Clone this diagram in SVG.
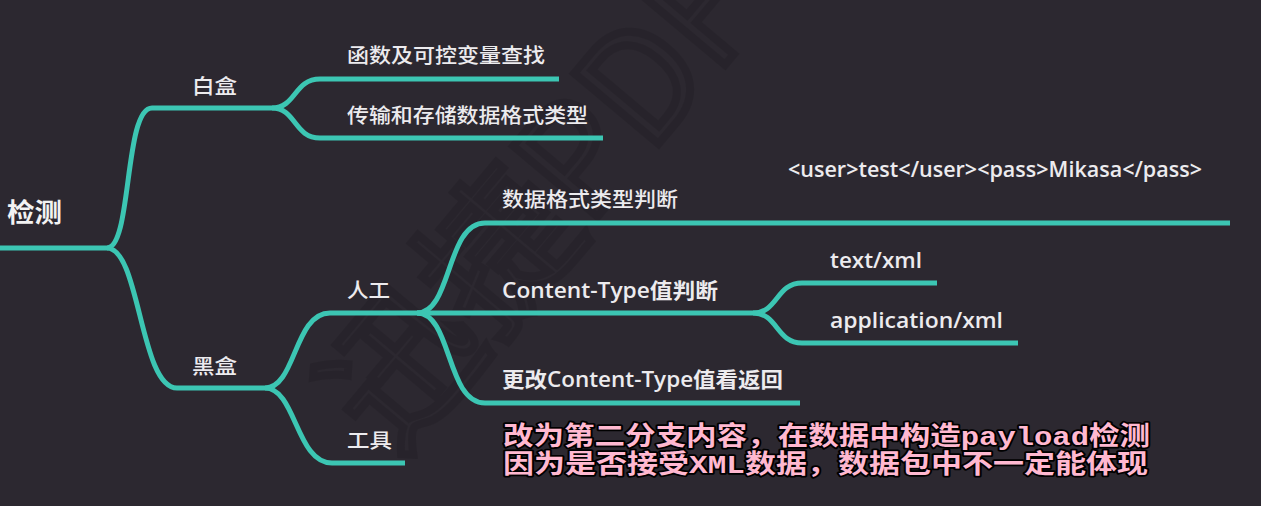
<svg xmlns="http://www.w3.org/2000/svg" width="1261" height="506" viewBox="0 0 1261 506">
<style>
.bg{fill:#2c2830}
.e{fill:none;stroke:#3cc6b3;stroke-width:5}
.t{font-family:"Noto Sans CJK SC","Noto Sans",sans-serif;font-size:20px;fill:#ecebee;font-weight:500}
.l{font-family:"Open Sans","Noto Sans CJK SC",sans-serif;font-size:21px;fill:#ecebee;font-weight:600}
.root{font-family:"Noto Sans CJK SC",sans-serif;font-size:26px;fill:#f2f2f2;font-weight:700}
.sub{font-family:"Liberation Mono","Noto Sans CJK SC",monospace;font-size:26px;font-weight:700;fill:#ffb8d0;stroke:#000;stroke-width:3.5;paint-order:stroke;stroke-linejoin:round}
.wm{font-family:"Noto Sans CJK SC",sans-serif;font-size:150px;fill:none;stroke:#1d1a21;stroke-width:8;stroke-opacity:0.3}
</style>
<rect class="bg" x="0" y="0" width="1261" height="506"/>
<g id="watermark" transform="translate(395,458) rotate(-50)"><text class="wm" x="0" y="0">迅捷PDF</text></g>
<g id="connectors">
<path class="e" d="M0,248 H107"/>
<path class="e" d="M107,248 C132,248 124,108 152,108 H272"/>
<path class="e" d="M107,248 C140,248 140,388 177,388 H265"/>
<path class="e" d="M272,108 C296,108 294,79 320,79 H559"/>
<path class="e" d="M272,108 C296,108 294,138 320,138 H603"/>
<path class="e" d="M265,388 C296,388 294,313 330,313 H417"/>
<path class="e" d="M265,388 C296,388 296,463 332,463 H405"/>
<path class="e" d="M417,313 C452,313 446,223 485,223 H1230"/>
<path class="e" d="M417,313 H753"/>
<path class="e" d="M417,313 C452,313 446,403 485,403 H800"/>
<path class="e" d="M753,313 C778,313 776,283 802,283 H937"/>
<path class="e" d="M753,313 C778,313 776,343 802,343 H1018"/>
</g>
<g id="n-root"><text class="root" x="7" y="222" textLength="55" lengthAdjust="spacingAndGlyphs">检测</text></g>
<g id="n-whitebox"><text class="t" x="192" y="94" textLength="45" lengthAdjust="spacingAndGlyphs">白盒</text></g>
<g id="n-func"><text class="t" x="347" y="63" textLength="198" lengthAdjust="spacingAndGlyphs">函数及可控变量查找</text></g>
<g id="n-trans"><text class="t" x="347" y="123" textLength="241" lengthAdjust="spacingAndGlyphs">传输和存储数据格式类型</text></g>
<g id="n-blackbox"><text class="t" x="192" y="374" textLength="45" lengthAdjust="spacingAndGlyphs">黑盒</text></g>
<g id="n-manual"><text class="t" x="347" y="298" textLength="43" lengthAdjust="spacingAndGlyphs">人工</text></g>
<g id="n-tool"><text class="t" x="347" y="448" textLength="45" lengthAdjust="spacingAndGlyphs">工具</text></g>
<g id="n-format"><text class="t" x="502" y="207" textLength="176" lengthAdjust="spacingAndGlyphs">数据格式类型判断</text></g>
<g id="n-xmlsample"><text class="l" x="788" y="177" textLength="414" lengthAdjust="spacingAndGlyphs">&lt;user&gt;test&lt;/user&gt;&lt;pass&gt;Mikasa&lt;/pass&gt;</text></g>
<g id="n-ctype"><text class="l" x="502" y="298" textLength="216" lengthAdjust="spacingAndGlyphs">Content-Type值判断</text></g>
<g id="n-textxml"><text class="l" x="830" y="268" textLength="92" lengthAdjust="spacingAndGlyphs">text/xml</text></g>
<g id="n-appxml"><text class="l" x="830" y="328" textLength="173" lengthAdjust="spacingAndGlyphs">application/xml</text></g>
<g id="n-change"><text class="l" x="502" y="387" textLength="281" lengthAdjust="spacingAndGlyphs">更改Content-Type值看返回</text></g>
<g id="subtitle">
<text class="sub" x="503" y="445" textLength="647" lengthAdjust="spacingAndGlyphs">改为第二分支内容，在数据中构造payload检测</text>
<text class="sub" x="503" y="473" textLength="645" lengthAdjust="spacingAndGlyphs">因为是否接受XML数据，数据包中不一定能体现</text>
</g>
</svg>
